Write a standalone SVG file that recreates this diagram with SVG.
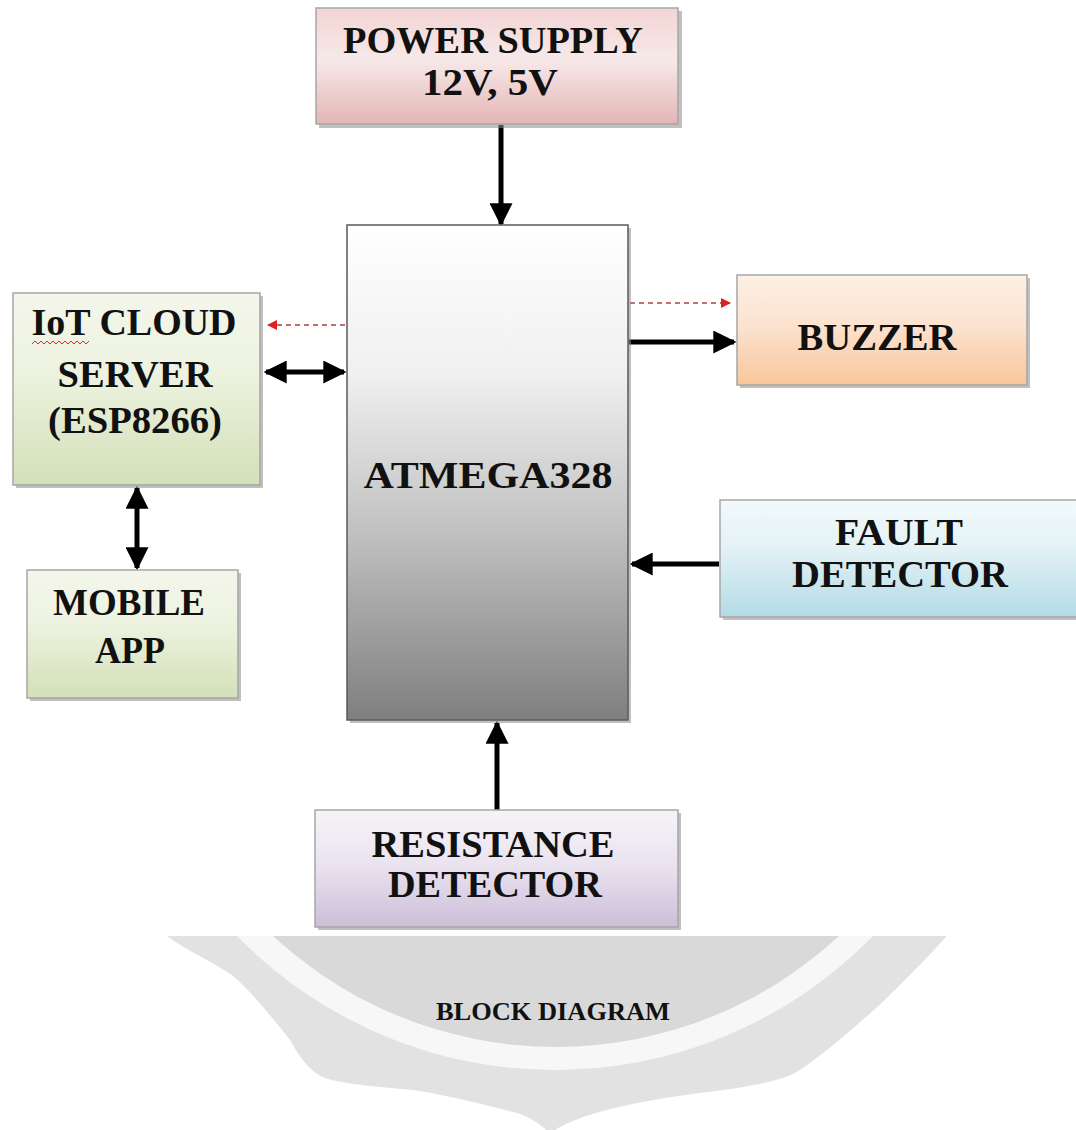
<svg xmlns="http://www.w3.org/2000/svg" width="1076" height="1130" viewBox="0 0 1076 1130">
<style>
.t{font-family:"Liberation Serif","Times New Roman",serif;font-weight:bold;font-size:38px;fill:#111;text-anchor:middle}
.box{stroke:#a6a6a6;stroke-width:1.5}
.sh{fill:#8c8c8c;opacity:.55}
.ln{stroke:#000;stroke-width:5;fill:none}
.dash{stroke:#b04040;stroke-width:1.5;stroke-dasharray:5 4;fill:none}
</style>
<defs>
<linearGradient id="gPow" x1="0" y1="0" x2="0" y2="1"><stop offset="0" stop-color="#f2d4d3"/><stop offset=".45" stop-color="#f7e9e9"/><stop offset="1" stop-color="#e4b5b4"/></linearGradient>
<linearGradient id="gMcu" x1="0" y1="0" x2="0" y2="1"><stop offset="0" stop-color="#ffffff"/><stop offset=".3" stop-color="#f0f0f0"/><stop offset=".6" stop-color="#c4c4c4"/><stop offset="1" stop-color="#7f7f7f"/></linearGradient>
<linearGradient id="gGrn" x1="0" y1="0" x2="0" y2="1"><stop offset="0" stop-color="#f3f6ea"/><stop offset=".4" stop-color="#eef3e1"/><stop offset="1" stop-color="#d3e0b8"/></linearGradient>
<linearGradient id="gOrg" x1="0" y1="0" x2="0" y2="1"><stop offset="0" stop-color="#fdf0e6"/><stop offset=".45" stop-color="#fce3d0"/><stop offset="1" stop-color="#f9c69c"/></linearGradient>
<linearGradient id="gBlu" x1="0" y1="0" x2="0" y2="1"><stop offset="0" stop-color="#f2f9fb"/><stop offset=".4" stop-color="#e4f2f6"/><stop offset="1" stop-color="#b3dbe6"/></linearGradient>
<linearGradient id="gPur" x1="0" y1="0" x2="0" y2="1"><stop offset="0" stop-color="#f6f3f8"/><stop offset=".45" stop-color="#ebe4f0"/><stop offset="1" stop-color="#cbbfd9"/></linearGradient>
<marker id="ah" viewBox="0 0 10 10" refX="9" refY="5" markerWidth="4.6" markerHeight="4.6" orient="auto-start-reverse" markerUnits="strokeWidth"><path d="M0,0 L10,5 L0,10 Z" fill="#000"/></marker>
<marker id="rh" viewBox="0 0 10 10" refX="9" refY="5" markerWidth="7" markerHeight="7" orient="auto" markerUnits="strokeWidth"><path d="M0,0 L10,5 L0,10 Z" fill="#e02020"/></marker>
<clipPath id="wmClip"><rect x="0" y="936" width="1076" height="194"/></clipPath>
</defs>
<rect width="1076" height="1130" fill="#fff"/>

<g id="watermark" clip-path="url(#wmClip)">
<path d="M160,930 C175,945 210,960 232,975 C250,990 270,1015 290,1040 C300,1058 310,1072 325,1078 C350,1086 390,1087 420,1091 C455,1097 490,1106 520,1114 C535,1120 545,1128 550,1134 C556,1128 575,1118 607,1110 C630,1104 660,1098 700,1093 C740,1088 775,1083 795,1073 C815,1060 830,1048 845,1035 C865,1018 880,1005 895,990 C915,970 935,950 952,930 Z" fill="#e2e2e2"/>
<circle cx="555" cy="626" r="444" fill="#f7f7f7"/>
<circle cx="556" cy="631" r="416" fill="#d9d9d9"/>
</g>
<text class="t" x="553" y="1020" style="font-size:26px" textLength="234" lengthAdjust="spacingAndGlyphs">BLOCK DIAGRAM</text>

<g id="connectors">
<line class="ln" x1="501" y1="125" x2="501" y2="224" marker-end="url(#ah)"/>
<line class="ln" x1="266" y1="372" x2="344" y2="372" marker-start="url(#ah)" marker-end="url(#ah)"/>
<line class="ln" x1="137" y1="488" x2="137" y2="568" marker-start="url(#ah)" marker-end="url(#ah)"/>
<line class="ln" x1="629" y1="342" x2="734" y2="342" marker-end="url(#ah)"/>
<line class="ln" x1="719" y1="564" x2="632" y2="564" marker-end="url(#ah)"/>
<line class="ln" x1="497" y1="810" x2="497" y2="723" marker-end="url(#ah)"/>
<line class="dash" x1="345" y1="325" x2="268" y2="325" marker-end="url(#rh)"/>
<line class="dash" x1="630" y1="303" x2="730" y2="303" marker-end="url(#rh)"/>
</g>

<g id="power">
<rect class="sh" x="319" y="11" width="363" height="117"/>
<rect class="box" x="316" y="8" width="362" height="116" fill="url(#gPow)"/>
<text class="t" x="493" y="53" textLength="300" lengthAdjust="spacingAndGlyphs">POWER SUPPLY</text>
<text class="t" x="490" y="95" textLength="136" lengthAdjust="spacingAndGlyphs">12V, 5V</text>
</g>

<g id="atmega">
<rect class="sh" x="350" y="228" width="281" height="495"/>
<rect x="347" y="225" width="281" height="495" fill="url(#gMcu)" stroke="#5a5a5a" stroke-width="1.5"/>
<text class="t" x="488" y="488" textLength="249" lengthAdjust="spacingAndGlyphs">ATMEGA328</text>
</g>

<g id="iot">
<rect class="sh" x="16" y="296" width="247" height="192"/>
<rect class="box" x="13" y="293" width="247" height="192" fill="url(#gGrn)"/>
<text class="t" x="134" y="335" textLength="205" lengthAdjust="spacingAndGlyphs">IoT CLOUD</text>
<path d="M32,344 l3,-3 l3,3 l3,-3 l3,3 l3,-3 l3,3 l3,-3 l3,3 l3,-3 l3,3 l3,-3 l3,3 l3,-3 l3,3 l3,-3 l3,3 l3,-3 l3,3 l3,-3" fill="none" stroke="#d03030" stroke-width="1"/>
<text class="t" x="135" y="387" textLength="155" lengthAdjust="spacingAndGlyphs">SERVER</text>
<text class="t" x="135" y="433" textLength="174" lengthAdjust="spacingAndGlyphs">(ESP8266)</text>
</g>

<g id="mobile">
<rect class="sh" x="30" y="573" width="211" height="128"/>
<rect class="box" x="27" y="570" width="211" height="128" fill="url(#gGrn)"/>
<text class="t" x="129" y="615" textLength="152" lengthAdjust="spacingAndGlyphs">MOBILE</text>
<text class="t" x="130" y="663" textLength="70" lengthAdjust="spacingAndGlyphs">APP</text>
</g>

<g id="buzzer">
<rect class="sh" x="740" y="278" width="290" height="110"/>
<rect class="box" x="737" y="275" width="290" height="110" fill="url(#gOrg)"/>
<text class="t" x="877" y="350" textLength="159" lengthAdjust="spacingAndGlyphs">BUZZER</text>
</g>

<g id="fault">
<rect class="sh" x="723" y="503" width="360" height="117"/>
<rect class="box" x="720" y="500" width="360" height="117" fill="url(#gBlu)"/>
<text class="t" x="899" y="545" textLength="128" lengthAdjust="spacingAndGlyphs">FAULT</text>
<text class="t" x="900" y="587" textLength="216" lengthAdjust="spacingAndGlyphs">DETECTOR</text>
</g>

<g id="resistance">
<rect class="sh" x="318" y="813" width="363" height="117"/>
<rect class="box" x="315" y="810" width="363" height="117" fill="url(#gPur)"/>
<text class="t" x="493" y="857" textLength="243" lengthAdjust="spacingAndGlyphs">RESISTANCE</text>
<text class="t" x="495" y="897" textLength="214" lengthAdjust="spacingAndGlyphs">DETECTOR</text>
</g>
</svg>
